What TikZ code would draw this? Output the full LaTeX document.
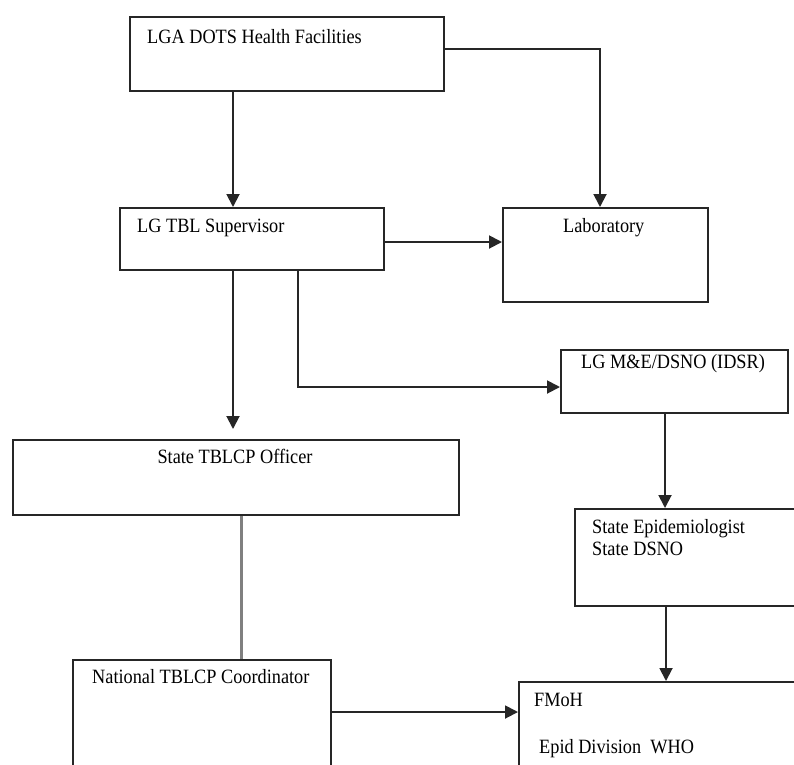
\documentclass[tikz,border=0pt]{standalone}
\usepackage{fontspec}
\setmainfont{Liberation Serif}[FakeStretch=0.9]
\usetikzlibrary{arrows.meta}
\begin{document}
\begin{tikzpicture}[x=1pt,y=-1pt,
  box/.style={draw=black!85, line width=1.9pt, rectangle, inner sep=0pt, anchor=north west},
  txt/.style={inner sep=0pt, font=\fontsize{20.3}{24}\selectfont, text=black},
  arr/.style={draw=black!85, line width=1.9pt, -{Triangle[length=13pt,width=13pt]}},
  grayline/.style={draw=black!50, line width=3pt}]
\useasboundingbox (0,0) rectangle (794,764);
\clip (0,0) rectangle (794,764);
\fill[white] (0,0) rectangle (794,764);

% boxes
\node[box, minimum width=314pt, minimum height=74pt] (lga) at (129,16) {};
\node[box, minimum width=264pt, minimum height=62pt] (tbl) at (119,207) {};
\node[box, minimum width=205pt, minimum height=94pt] (lab) at (502,207) {};
\node[box, minimum width=227pt, minimum height=63pt] (lgme) at (560,349) {};
\node[box, minimum width=446pt, minimum height=75pt] (stbl) at (12,439) {};
\node[box, minimum width=250pt, minimum height=97pt] (sepi) at (574,508) {};
\node[box, minimum width=258pt, minimum height=140pt] (nat) at (72,659) {};
\node[box, minimum width=300pt, minimum height=120pt] (fmoh) at (518,681) {};

% texts
\node[txt, anchor=base west] (lgaT) at (147,43) {LGA DOTS Health Facilities};
\node[txt, anchor=base west] (tblT) at (137,232) {LG TBL Supervisor};
\node[txt, anchor=base west] (labT) at (563,232) {Laboratory};
\node[txt, anchor=base west] (lgmeT) at (581,368) {LG M\&E/DSNO (IDSR)};
\node[txt, anchor=base] (stblT) at (235,463) {State TBLCP Officer};
\node[txt, anchor=base west] (sepiT1) at (592,533) {State Epidemiologist};
\node[txt, anchor=base west] (sepiT2) at (592,555) {State DSNO};
\node[txt, anchor=base west] (natT) at (92,683) {National TBLCP Coordinator};
\node[txt, anchor=base west] (fmohT1) at (534,706) {FMoH};
\node[txt, anchor=base west] (fmohT2) at (539,753) {Epid Division\ \ WHO};

% guide coordinates
\coordinate (k1) at (600,49);
\coordinate (x233) at (233,0);
\coordinate (y242) at (0,242);
\coordinate (k2) at (298,387);
\coordinate (x665) at (665,0);
\coordinate (x241) at (241,0);
\coordinate (y712) at (0,712);
\coordinate (x666) at (666,0);

% connectors
\draw[arr] (x233 |- lga.south) -- (x233 |- tbl.north);
\draw[arr] (k1 -| lga.east) -- (k1) -- (k1 |- lab.north);
\draw[arr] (tbl.east |- y242) -- (lab.west |- y242);
\draw[arr, shorten >=10pt] (x233 |- tbl.south) -- (x233 |- stbl.north);
\draw[arr] (k2 |- tbl.south) -- (k2) -- (k2 -| lgme.west);
\draw[arr] (x665 |- lgme.south) -- (x665 |- sepi.north);
\draw[grayline] (x241 |- stbl.south) -- (x241 |- nat.north);
\draw[arr] (nat.east |- y712) -- (fmoh.west |- y712);
\draw[arr] (x666 |- sepi.south) -- (x666 |- fmoh.north);
\end{tikzpicture}
\end{document}
